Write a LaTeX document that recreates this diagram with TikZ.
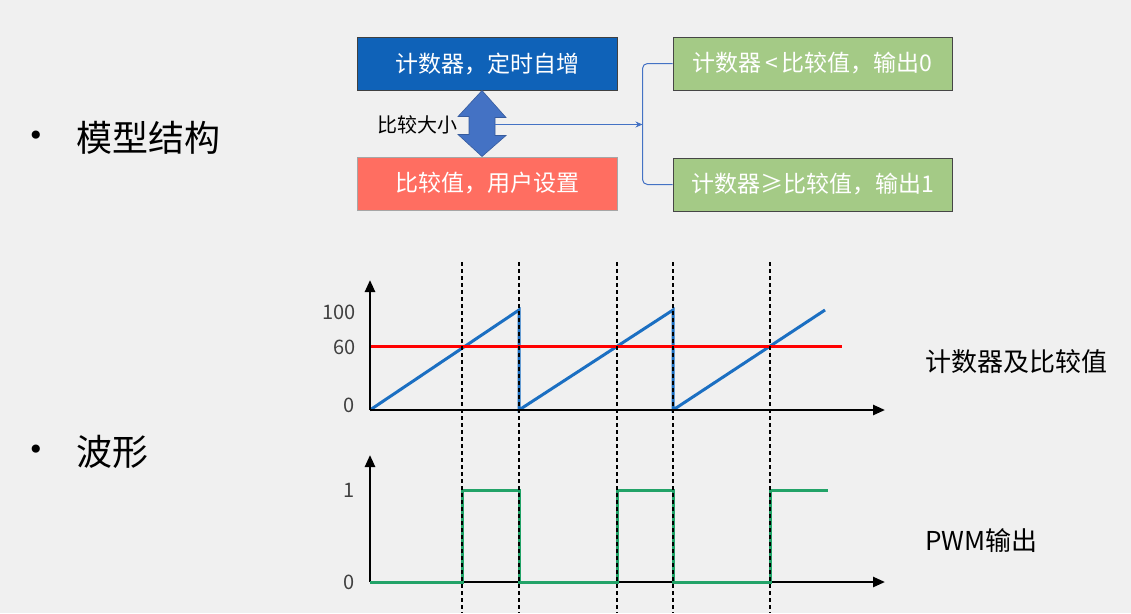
\documentclass[tikz,border=0pt]{standalone}
\usepackage{fontspec}
\setmainfont{Noto Sans CJK SC}
\newfontfamily\symfont{DejaVu Sans}
\usepackage{xcolor}
\usetikzlibrary{positioning,calc,arrows.meta}

\definecolor{bgGray}{HTML}{F0F0F0}
\definecolor{cntBlue}{HTML}{0F62B8}
\definecolor{cmpRed}{HTML}{FF6E61}
\definecolor{outGreen}{HTML}{A4CA86}
\definecolor{linkBlue}{HTML}{4472C4}
\definecolor{rampBlue}{HTML}{1B6FC2}
\definecolor{pwmGreen}{HTML}{22A368}

\begin{document}
\begin{tikzpicture}[x=1pt, y=-1pt,
    box/.style={rectangle, draw=#1, line width=1pt, minimum width=260pt, minimum height=53pt, font=\fontsize{23}{23}\selectfont, text=white, inner sep=0pt},
    outbox/.style={box=gray!55!black, fill=outGreen, minimum width=279pt},
    link/.style={draw=linkBlue, line width=1pt},
    axis/.style={line width=2.5pt, -{Triangle[length=12pt,width=10pt]}},
    guide/.style={dash pattern=on 4pt off 3pt, line width=1.3pt},
    tick/.style={font=\fontsize{20}{20}\selectfont, text=black!75, anchor=east, inner sep=0pt},
    bullet/.style={font=\fontsize{36}{36}\selectfont, anchor=west, inner sep=0pt},
    dot/.style={font=\symfont\fontsize{28}{28}\selectfont, inner sep=0pt},
    caption/.style={font=\fontsize{26}{26}\selectfont, anchor=west, inner sep=0pt}
]
    % background
    \fill[bgGray] (0,0) rectangle (1131,613);
    \useasboundingbox (0,0) rectangle (1131,613);

    % Bullets
    \node[dot] (dot1) at (36,138) {•};
    \node[bullet] (model) at (76,138) {模型结构};
    \node[dot] (dot2) at (36,452) {•};
    \node[bullet] (wave) at (76,452) {波形};

    % Model boxes
    \node[box=black!75, fill=cntBlue] (cnt) at (487,63.5) {计数器，定时自增};
    \node[box=gray!70, fill=cmpRed] (cmp) at (487,183.5) {比较值，用户设置};
    \node[outbox] (lt) at (812.5,63.5) {计数器\,<\,比较值，输出0};
    \node[outbox] (ge) at (812.5,184.5) {计数器≥比较值，输出1};

    % Compare arrow
    \coordinate (ax) at ($(cnt.south)+(-5,0)$);
    \coordinate (bx) at ($(cmp.north)+(-5,0)$);
    \filldraw[fill=linkBlue, draw=linkBlue!80!black, line width=0.6pt]
        (ax) -- ++(24,27) -- ++(-11,0) -- ++(0,18) -- ++(11,0) -- (bx)
        -- ++(-24,-22) -- ++(11,0) -- ++(0,-18) -- ++(-11,0) -- cycle;
    \node[font=\fontsize{20}{20}\selectfont, inner sep=0pt, anchor=east] (cmpLabel) at ($(ax)+(-24,34)$) {比较大小};

    % Connections
    \coordinate (sx) at ($(ax)+(13,34)$);
    \path (lt.west) ++(-30,0) coordinate (fork);
    \draw[link, -{Stealth[length=7pt,width=6pt]}] (sx) -- (sx -| fork);
    \draw[link, rounded corners=5pt] (lt.west) -- (fork) -- (fork |- ge.west) -- (ge.west);

    % Counter and compare value
    \coordinate (o1) at (370,410);
    \draw[rampBlue, line width=3pt] (o1) -- (519,310) -- (519,410) -- (673,310) -- (673,410) -- (825,310);
    \draw[red, line width=3pt] (370,346) -- (842,346);
    \draw[axis] (o1) -- (370,280);
    \draw[axis] (o1) -- (885,410);
    \node[tick] (t100) at (356,312) {100};
    \node[tick] (t60) at (356,347) {60};
    \node[tick] (t0a) at (355,405) {0};
    \node[caption] (cntCap) at (925,362) {计数器及比较值};

    % PWM output
    \coordinate (o2) at (370,582);
    \draw[axis] (o2) -- (370,455);
    \draw[axis] (o2) -- (885,582);
    \draw[pwmGreen, line width=3pt] (o2) -- (462,582) -- (462,490) -- (519,490) -- (519,582)
        -- (617,582) -- (617,490) -- (673,490) -- (673,582) -- (770,582) -- (770,490) -- (828,490);
    \node[tick] (t1) at (355,490) {1};
    \node[tick] (t0b) at (355,582) {0};
    \node[caption] (pwmCap) at (925,541) {PWM输出};

    % Guides
    \foreach \x in {462,519,617,673,770}
        \draw[guide] (\x,262) -- (\x,613);

\end{tikzpicture}
\end{document}
